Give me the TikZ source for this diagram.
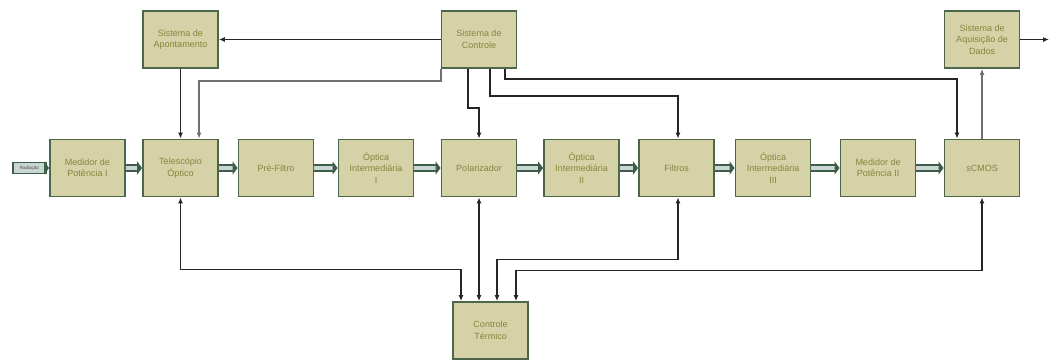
\documentclass[tikz,border=0pt]{standalone}
\usepackage{fontspec}
\setmainfont{Liberation Sans}
\usetikzlibrary{arrows.meta,positioning}

\definecolor{boxfill}{HTML}{D6D2A8}
\definecolor{boxline}{HTML}{4E6649}
\definecolor{boxtext}{HTML}{85853A}
\definecolor{flowfill}{HTML}{C9D6D4}
\definecolor{flowline}{HTML}{3F5E48}
\definecolor{linegray}{HTML}{707070}

\begin{document}
\begin{tikzpicture}[x=1pt, y=1pt,
  block/.style={draw=boxline, line width=1.8pt, fill=boxfill, text=boxtext, minimum width=75pt, minimum height=57pt, align=center, font=\fontsize{9}{11.5}\selectfont, inner sep=1pt},
  flow/.style={draw=flowline, double=flowfill, line width=1.6pt, double distance=4.5pt, -{Triangle[length=5pt,width=13pt]}},
  conn/.style={draw=black!85, line width=1.6pt, -{Latex[length=6pt,width=5pt]}},
  gconn/.style={conn, draw=linegray, line width=2pt},
  biconn/.style={conn, {Latex[length=6pt,width=5pt]}-{Latex[length=6pt,width=5pt]}}]

  \useasboundingbox (0,0) rectangle (1051,-360);

  % Main row
  \node[block] (M1) at (87.5,-168) {Medidor de\\Potência I};
  \node[block, right of=M1, node distance=93pt] (Tel) {Telescópio\\Óptico};
  \node[block, right of=Tel, node distance=95.5pt] (Pre) {Pré-Filtro};
  \node[block, right of=Pre, node distance=100pt] (Op1) {Óptica\\Intermediária\\I};
  \node[block, right of=Op1, node distance=103pt] (Pol) {Polarizador};
  \node[block, right of=Pol, node distance=102.5pt] (Op2) {Óptica\\Intermediária\\II};
  \node[block, right of=Op2, node distance=95pt] (Fil) {Filtros};
  \node[block, right of=Fil, node distance=96.5pt] (Op3) {Óptica\\Intermediária\\III};
  \node[block, right of=Op3, node distance=105pt] (M2) {Medidor de\\Potência II};
  \node[block, right of=M2, node distance=104pt] (CMOS) {sCMOS};

  % Top row
  \node[block, above of=Tel, node distance=128.5pt] (Apont) {Sistema de\\Apontamento};
  \node[block, above of=Pol, node distance=128.5pt] (Ctrl) {Sistema de\\Controle};
  \node[block, above of=CMOS, node distance=128.5pt] (Aq) {Sistema de\\Aquisição de\\Dados};

  % Bottom
  \node[block, below of=Pol, node distance=162.5pt, xshift=11.5pt] (Term) {Controle\\Térmico};

  % Input
  \node[draw=flowline, fill=flowfill, line width=1.3pt, minimum width=33pt, minimum height=11pt, inner sep=0pt, font=\fontsize{4.5}{5}\selectfont, text=black!70, left of=M1, node distance=58pt] (Rad) {Radiação};
  \coordinate (Out) at (1049,-39.5);

  % Optical path
  \draw[flow] (Rad.east) -- (M1.west);
  \draw[flow] (M1.east) -- (Tel.west);
  \draw[flow] (Tel.east) -- (Pre.west);
  \draw[flow] (Pre.east) -- (Op1.west);
  \draw[flow] (Op1.east) -- (Pol.west);
  \draw[flow] (Pol.east) -- (Op2.west);
  \draw[flow] (Op2.east) -- (Fil.west);
  \draw[flow] (Fil.east) -- (Op3.west);
  \draw[flow] (Op3.east) -- (M2.west);
  \draw[flow] (M2.east) -- (CMOS.west);

  % Control lines
  \draw[conn] (Ctrl.west) -- (Apont.east);
  \draw[conn] (Apont.south) -- (Tel.north);
  \draw[gconn] (Ctrl.south west) -- ++(0,-12) -| ([xshift=18.5pt]Tel.north);
  \draw[conn] ([xshift=-11pt]Ctrl.south) -- ++(0,-39) -| (Pol.north);
  \draw[conn] ([xshift=11pt]Ctrl.south) -- ++(0,-27) -| ([xshift=1.5pt]Fil.north);
  \draw[conn] ([xshift=26pt]Ctrl.south) -- ++(0,-10) -| ([xshift=-25pt]CMOS.north);

  % Data
  \draw[gconn] (CMOS.north) -- (Aq.south);
  \draw[conn] (Aq.east) -- (Out);

  % Thermal control
  \draw[biconn] (Tel.south) -- ++(0,-72) -| ([xshift=-29.5pt]Term.north);
  \draw[biconn] (Pol.south) -- (Pol.south |- Term.north);
  \draw[biconn] ([xshift=1.5pt]Fil.south) -- ++(0,-62) -| ([xshift=6.5pt]Term.north);
  \draw[biconn] (CMOS.south) -- ++(0,-73) -| ([xshift=25.5pt]Term.north);

\end{tikzpicture}
\end{document}
